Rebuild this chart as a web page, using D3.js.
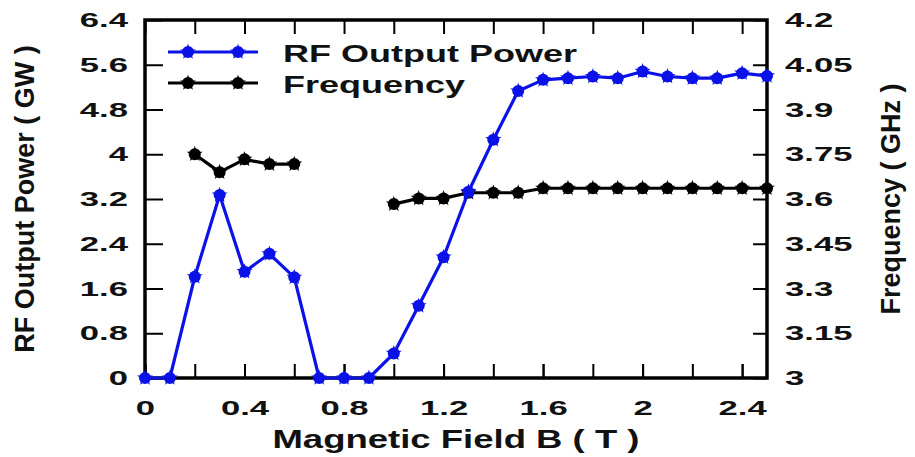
<!DOCTYPE html>
<html>
<head>
<meta charset="utf-8">
<script src="https://cdn.jsdelivr.net/npm/d3@7"></script>
<style>
  html, body { margin: 0; padding: 0; background: #fff; }
  svg { display: block; }
  text { font-family: "Liberation Sans", Arial, sans-serif; font-weight: bold; fill: #111; }
</style>
</head>
<body>
<svg id="chart" width="915" height="457"></svg>
<script>
// Magnetic field B (T) at each measurement
const fieldB = [0, 0.1, 0.2, 0.3, 0.4, 0.5, 0.6, 0.7, 0.8, 0.9, 1.0, 1.1, 1.2,
                1.3, 1.4, 1.5, 1.6, 1.7, 1.8, 1.9, 2.0, 2.1, 2.2, 2.3, 2.4, 2.5];
// RF output power (GW)
const rfPower = [0, 0, 1.81, 3.27, 1.90, 2.22, 1.80, 0, 0, 0, 0.44, 1.29, 2.16,
                 3.33, 4.26, 5.13, 5.33, 5.36, 5.39, 5.36, 5.48, 5.39, 5.36, 5.36, 5.45, 5.40];
// Frequency (GHz); null where no oscillation frequency was recorded
const frequency = [null, null, 3.75, 3.69, 3.733, 3.717, 3.717, null, null, null, 3.583, 3.602, 3.602,
                   3.621, 3.621, 3.621, 3.636, 3.636, 3.636, 3.636, 3.636, 3.636, 3.636, 3.636, 3.636, 3.636];

const xLabelTicks = [0, 0.4, 0.8, 1.2, 1.6, 2, 2.4];
const xMinorTicks = [0, 0.2, 0.4, 0.6, 0.8, 1.0, 1.2, 1.4, 1.6, 1.8, 2.0, 2.2, 2.4];
const powerTicks = [0, 0.8, 1.6, 2.4, 3.2, 4, 4.8, 5.6, 6.4];
const freqTicks = [3, 3.15, 3.3, 3.45, 3.6, 3.75, 3.9, 4.05, 4.2];

const seriesNames = ["RF Output Power", "Frequency"];
const seriesColors = ["#0a12e8", "#000000"];

const svg = d3.select("#chart");
const plot = { left: 145, right: 767, top: 20, bottom: 378 };

const x = d3.scaleLinear().domain([0, 2.5]).range([plot.left, plot.right]);
const yPow = d3.scaleLinear().domain([0, 6.4]).range([plot.bottom, plot.top]);
const yFreq = d3.scaleLinear().domain([3, 4.2]).range([plot.bottom, plot.top]);

// Widen bold text horizontally by a factor, keeping its anchor
function widen(sel, k) {
  sel.each(function () {
    const w = this.getComputedTextLength();
    d3.select(this).attr("textLength", w * k).attr("lengthAdjust", "spacingAndGlyphs");
  });
}

function styleAxis(g, fontSize, k) {
  g.select(".domain").remove();
  g.selectAll(".tick line").attr("stroke", "#000").attr("stroke-width", 2);
  const t = g.selectAll(".tick text").style("font-size", fontSize + "px").attr("fill", "#111");
  widen(t, k);
}

// bottom axis: minor ticks and labelled ticks
svg.append("g").attr("transform", `translate(0,${plot.bottom})`)
  .call(d3.axisBottom(x).tickValues(xMinorTicks).tickSize(-14).tickFormat(""))
  .call(g => styleAxis(g, 21, 1));
svg.append("g").attr("transform", `translate(0,${plot.bottom})`)
  .call(d3.axisBottom(x).tickValues(xLabelTicks).tickSize(-14).tickPadding(22).tickFormat(d3.format("~g")))
  .call(g => styleAxis(g, 21, 1.65));
// top axis ticks
svg.append("g").attr("transform", `translate(0,${plot.top})`)
  .call(d3.axisTop(x).tickValues(xMinorTicks).tickSize(-14).tickFormat(""))
  .call(g => styleAxis(g, 21, 1));
// left axis
svg.append("g").attr("transform", `translate(${plot.left},0)`)
  .call(d3.axisLeft(yPow).tickValues(powerTicks).tickSize(-18).tickPadding(17).tickFormat(d3.format("~g")))
  .call(g => styleAxis(g, 21, 1.65));
// right axis
svg.append("g").attr("transform", `translate(${plot.right},0)`)
  .call(d3.axisRight(yFreq).tickValues(freqTicks).tickSize(-14).tickPadding(18).tickFormat(d3.format("~g")))
  .call(g => styleAxis(g, 21, 1.65));

// frame
svg.append("rect")
  .attr("x", plot.left).attr("y", plot.top)
  .attr("width", plot.right - plot.left).attr("height", plot.bottom - plot.top)
  .attr("fill", "none").attr("stroke", "#000").attr("stroke-width", 3.5);

// marker: round blob with a slightly ragged edge
const starPath = d3.symbol(d3.symbolStar, 80)();
function marker(g, cx, cy, color) {
  g.append("circle").attr("cx", cx).attr("cy", cy).attr("r", 6).attr("fill", color);
  g.append("path").attr("transform", `translate(${cx},${cy})`).attr("d", starPath).attr("fill", color);
}

// series
function drawSeries(values, yScale, color) {
  const pts = fieldB.map((b, i) => ({ b, v: values[i] }));
  const line = d3.line()
    .defined(d => d.v != null)
    .x(d => x(d.b)).y(d => yScale(d.v));
  svg.append("path").datum(pts)
    .attr("d", line).attr("fill", "none")
    .attr("stroke", color).attr("stroke-width", 3.2).attr("stroke-linejoin", "round");
  const g = svg.append("g");
  pts.filter(d => d.v != null).forEach(d => marker(g, x(d.b), yScale(d.v), color));
}
drawSeries(frequency, yFreq, seriesColors[1]);
drawSeries(rfPower, yPow, seriesColors[0]);

// legend
const legendRows = [52, 83];
seriesNames.forEach((name, i) => {
  const g = svg.append("g").attr("transform", `translate(0,${legendRows[i]})`);
  g.append("line").attr("x1", 168).attr("x2", 258).attr("y1", 0).attr("y2", 0)
    .attr("stroke", seriesColors[i]).attr("stroke-width", 3.2);
  [188, 238].forEach(cx => marker(g, cx, 0, seriesColors[i]));
  const t = g.append("text").attr("x", 283).attr("y", 10).style("font-size", "24px").text(name);
  widen(t, 1.5);
});

// axis titles
const xt = svg.append("text").attr("x", (plot.left + plot.right) / 2).attr("y", 448)
  .attr("text-anchor", "middle").style("font-size", "25px").text("Magnetic Field B ( T )");
widen(xt, 1.46);

svg.append("text")
  .attr("transform", `translate(34,${(plot.top + plot.bottom) / 2}) rotate(-90)`)
  .attr("text-anchor", "middle").style("font-size", "27px").text("RF Output Power ( GW )");
svg.append("text")
  .attr("transform", `translate(900,${(plot.top + plot.bottom) / 2}) rotate(-90)`)
  .attr("text-anchor", "middle").style("font-size", "27px").text("Frequency ( GHz )");
</script>
</body>
</html>
